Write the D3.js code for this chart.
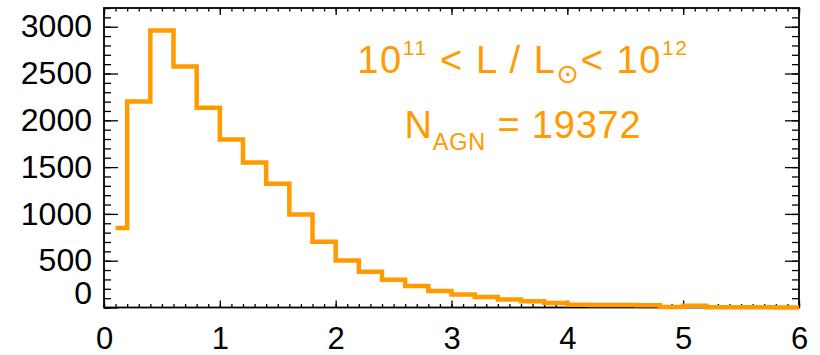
<!DOCTYPE html>
<html>
<head>
<meta charset="utf-8">
<script src="https://cdn.jsdelivr.net/npm/d3@7"></script>
<style>
  body { margin: 0; background: #fff; }
  text { font-family: "Liberation Sans", Arial, Helvetica, sans-serif; }
</style>
</head>
<body>
<svg id="chart" width="820" height="355"></svg>
<script>
// Histogram bin centres (width 0.2) and AGN counts per bin
const binCenters = [0.1, 0.3, 0.5, 0.7, 0.9, 1.1, 1.3, 1.5, 1.7, 1.9,
                    2.1, 2.3, 2.5, 2.7, 2.9, 3.1, 3.3, 3.5, 3.7, 3.9,
                    4.1, 4.3, 4.5, 4.7, 4.9, 5.1, 5.3, 5.5, 5.7, 5.9];
const counts = [850, 2200, 2960, 2575, 2135, 1795, 1548, 1322, 994, 702,
                502, 381, 296, 229, 176, 139, 112, 85, 68, 47,
                30, 28, 26, 24, 6, 18, 3, 2, 2, 1];
const xTicks = [0, 1, 2, 3, 4, 5, 6];
const yTicks = [0, 500, 1000, 1500, 2000, 2500, 3000];
const xDomain = [0, 6];
const yDomain = [0, 3200];
const nAgn = 19372;

const orange = "#ff9a00";
const margin = { left: 104, right: 21, top: 8, bottom: 47.5 };
const W = 820, H = 355;

const svg = d3.select("#chart");
const x = d3.scaleLinear().domain(xDomain).range([margin.left, W - margin.right]);
const y = d3.scaleLinear().domain(yDomain).range([H - margin.bottom, margin.top]);

const xMinor = d3.range(Math.round(xDomain[0] * 10), Math.round(xDomain[1] * 10) + 1).map(d => d / 10);
const yMinor = d3.range(yDomain[0], yDomain[1] + 1, 100);

const x0 = x.range()[0], x1 = x.range()[1];
const y0 = y.range()[0], y1 = y.range()[1];

function styleAxis(g) {
  g.select(".domain").remove();
  g.selectAll(".tick line").attr("stroke", "#000").attr("stroke-width", 1.3);
  g.selectAll(".tick text").attr("fill", "#000").attr("font-size", 32);
}

// bottom axis: labelled major ticks + minor ticks, pointing inward
svg.append("g").attr("transform", `translate(0,${y0})`)
  .call(d3.axisBottom(x).tickValues(xMinor).tickSize(-3.5).tickFormat(""))
  .call(styleAxis);
const xAxisG = svg.append("g").attr("transform", `translate(0,${y0})`)
  .call(d3.axisBottom(x).tickValues(xTicks).tickSize(-7).tickPadding(19).tickFormat(d3.format("d")))
  .call(styleAxis);
xAxisG.selectAll(".tick text").attr("font-size", 31);

// top axis (ticks only)
svg.append("g").attr("transform", `translate(0,${y1})`)
  .call(d3.axisTop(x).tickValues(xMinor).tickSize(-3.5).tickFormat(""))
  .call(styleAxis);
svg.append("g").attr("transform", `translate(0,${y1})`)
  .call(d3.axisTop(x).tickValues(xTicks).tickSize(-7).tickFormat(""))
  .call(styleAxis);

// left axis
svg.append("g").attr("transform", `translate(${x0},0)`)
  .call(d3.axisLeft(y).tickValues(yMinor).tickSize(-7).tickFormat(""))
  .call(styleAxis);
const yAxisG = svg.append("g").attr("transform", `translate(${x0},0)`)
  .call(d3.axisLeft(y).tickValues(yTicks).tickSize(-14).tickPadding(12).tickFormat(d3.format("d")))
  .call(styleAxis);
// the zero label sits lifted clear of the x axis
yAxisG.selectAll(".tick").filter(d => d === 0).select("text").attr("dy", "-0.12em");

// right axis (ticks only)
svg.append("g").attr("transform", `translate(${x1},0)`)
  .call(d3.axisRight(y).tickValues(yMinor).tickSize(-7).tickFormat(""))
  .call(styleAxis);
svg.append("g").attr("transform", `translate(${x1},0)`)
  .call(d3.axisRight(y).tickValues(yTicks).tickSize(-14).tickFormat(""))
  .call(styleAxis);

// frame
svg.append("rect")
  .attr("x", x0).attr("y", y1)
  .attr("width", x1 - x0).attr("height", y0 - y1)
  .attr("fill", "none").attr("stroke", "#000").attr("stroke-width", 1.8);

// histogram drawn as mid-point steps, carried to the right edge of the frame
const pts = binCenters.map((c, i) => [c, counts[i]]);
pts.push([xDomain[1], counts[counts.length - 1]]);
const line = d3.line()
  .x(d => x(d[0]))
  .y(d => y(d[1]))
  .curve(d3.curveStep);
svg.append("path")
  .attr("d", line(pts))
  .attr("fill", "none")
  .attr("stroke", orange)
  .attr("stroke-width", 4.5)
  .attr("stroke-linejoin", "miter")
  .attr("stroke-linecap", "butt");

// annotation
const cx = 523;
const t1 = svg.append("text")
  .attr("x", cx).attr("y", 73.3)
  .attr("text-anchor", "middle")
  .attr("fill", orange)
  .attr("font-size", 38)
  .attr("letter-spacing", 1.6);
t1.append("tspan").text("10");
t1.append("tspan").attr("font-size", 21).attr("dy", -18).text("11");
t1.append("tspan").attr("dy", 18).text(" < L / L");
t1.append("tspan").attr("font-size", 27).attr("dy", 10)
  .style("font-family", "'DejaVu Sans', sans-serif").text("\u2299");
t1.append("tspan").attr("dy", -10).text("< 10");
t1.append("tspan").attr("font-size", 21).attr("dy", -18).text("12");

const t2 = svg.append("text")
  .attr("x", cx).attr("y", 138.3)
  .attr("text-anchor", "middle")
  .attr("fill", orange)
  .attr("font-size", 38)
  .attr("letter-spacing", 0.8);
t2.append("tspan").text("N");
t2.append("tspan").attr("font-size", 23.5).attr("dy", 12).text("AGN");
t2.append("tspan").attr("dy", -12).text(" = " + nAgn);
</script>
</body>
</html>
